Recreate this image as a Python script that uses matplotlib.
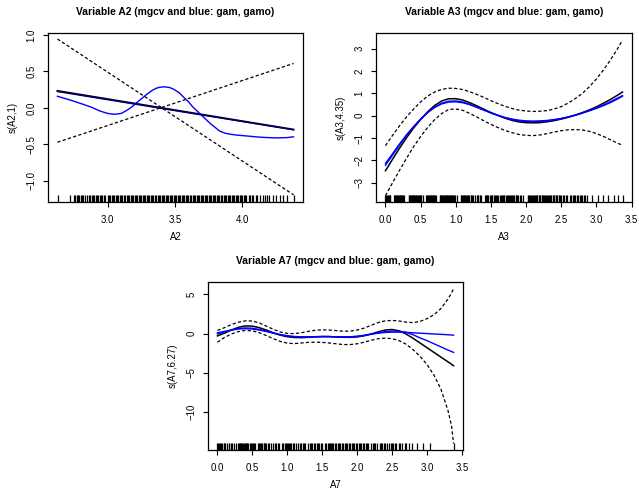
import matplotlib
matplotlib.use("Agg")
import matplotlib.pyplot as plt

plt.rcParams['font.family'] = ['Liberation Sans', 'DejaVu Sans']

W, H = 639, 491

# ---------------- Panel A2 ----------------
a2_x_lin = [2.627, 4.38]
a2_fit = [0.235, -0.295]
a2_gam_lin = [0.225, -0.300]
a2_upper = [0.945, -1.19]
a2_lower = [-0.47, 0.61]
a2_x_wig = [2.627, 2.72, 2.81, 2.88, 2.94, 3.00, 3.05, 3.10, 3.14, 3.18, 3.21, 3.25,
            3.29, 3.33, 3.36, 3.39, 3.42, 3.46, 3.49, 3.53, 3.56, 3.60, 3.63, 3.68,
            3.72, 3.76, 3.80, 3.83, 3.87, 3.91, 3.96, 4.01, 4.07, 4.13, 4.20, 4.26,
            4.33, 4.38]
a2_gamo = [0.16, 0.11, 0.055, 0.01, -0.04, -0.075, -0.087, -0.075, -0.035, 0.015, 0.064,
           0.125, 0.187, 0.24, 0.27, 0.285, 0.29, 0.28, 0.256, 0.21, 0.155, 0.085, 0.018,
           -0.07, -0.14, -0.21, -0.27, -0.315, -0.345, -0.36, -0.372, -0.38, -0.39,
           -0.40, -0.407, -0.41, -0.406, -0.395]
a2_rug = [2.63, 2.72, 2.75, 2.76, 2.77, 2.78, 2.79, 2.80, 2.81, 2.82, 2.83, 2.85, 2.86,
          2.87, 2.88, 2.89, 2.90, 2.91, 2.92, 2.93, 2.94, 2.95, 2.96, 2.97, 2.98, 3.00,
          3.01, 3.02, 3.03, 3.04, 3.05, 3.06, 3.07, 3.08, 3.09, 3.10, 3.11, 3.12, 3.13,
          3.14, 3.15, 3.16, 3.17, 3.18, 3.19, 3.20, 3.21, 3.22, 3.23, 3.24, 3.25, 3.26,
          3.27, 3.28, 3.29, 3.30, 3.31, 3.32, 3.33, 3.34, 3.35, 3.36, 3.37, 3.38, 3.39,
          3.40, 3.41, 3.42, 3.43, 3.44, 3.45, 3.46, 3.47, 3.48, 3.49, 3.50, 3.51, 3.52,
          3.53, 3.54, 3.55, 3.56, 3.57, 3.58, 3.59, 3.60, 3.61, 3.62, 3.63, 3.64, 3.65,
          3.66, 3.67, 3.68, 3.69, 3.70, 3.71, 3.72, 3.73, 3.74, 3.75, 3.76, 3.77, 3.78,
          3.79, 3.80, 3.81, 3.82, 3.83, 3.84, 3.85, 3.86, 3.87, 3.88, 3.89, 3.90, 3.91,
          3.92, 3.93, 3.94, 3.95, 3.96, 3.97, 3.98, 3.99, 4.00, 4.01, 4.02, 4.03, 4.05,
          4.06, 4.07, 4.08, 4.10, 4.11, 4.13, 4.15, 4.17, 4.18, 4.20, 4.23, 4.25, 4.28,
          4.30, 4.33, 4.38]

# ---------------- Panel A3 ----------------
a3_x = [0.0, 0.1, 0.2, 0.3, 0.4, 0.5, 0.6, 0.7, 0.8, 0.9, 1.0, 1.1, 1.2, 1.3, 1.4, 1.5,
        1.6, 1.7, 1.8, 1.9, 2.0, 2.1, 2.2, 2.3, 2.4, 2.5, 2.6, 2.7, 2.8, 2.9, 3.0, 3.1,
        3.2, 3.3, 3.37]
a3_fit = [-2.46, -1.95, -1.45, -0.98, -0.55, -0.17, 0.18, 0.46, 0.66, 0.76, 0.76, 0.70,
          0.58, 0.44, 0.29, 0.14, 0.01, -0.11, -0.21, -0.28, -0.31, -0.32, -0.31, -0.27,
          -0.22, -0.15, -0.07, 0.03, 0.14, 0.26, 0.40, 0.56, 0.73, 0.92, 1.06]
a3_gam = [-2.13, -1.70, -1.26, -0.85, -0.48, -0.15, 0.15, 0.39, 0.56, 0.65, 0.66, 0.61,
          0.51, 0.38, 0.25, 0.12, 0.01, -0.09, -0.17, -0.23, -0.26, -0.27, -0.26, -0.23,
          -0.19, -0.13, -0.06, 0.02, 0.12, 0.23, 0.35, 0.48, 0.63, 0.79, 0.90]
a3_gamo = [-2.22, -1.77, -1.31, -0.88, -0.50, -0.16, 0.14, 0.37, 0.53, 0.61, 0.62, 0.58,
           0.49, 0.37, 0.25, 0.13, 0.02, -0.08, -0.15, -0.20, -0.23, -0.24, -0.23, -0.21,
           -0.17, -0.12, -0.05, 0.03, 0.12, 0.22, 0.33, 0.45, 0.59, 0.75, 0.87]
a3_upper = [-1.34, -0.88, -0.45, -0.05, 0.30, 0.62, 0.88, 1.06, 1.18, 1.23, 1.22, 1.17,
            1.07, 0.95, 0.82, 0.67, 0.54, 0.42, 0.32, 0.25, 0.21, 0.19, 0.20, 0.23,
            0.30, 0.41, 0.57, 0.77, 1.00, 1.30, 1.65, 2.05, 2.50, 3.00, 3.38]
a3_lower = [-3.58, -3.00, -2.44, -1.90, -1.38, -0.93, -0.52, -0.17, 0.10, 0.28, 0.30, 0.24,
            0.10, -0.06, -0.23, -0.39, -0.53, -0.66, -0.76, -0.84, -0.88, -0.89, -0.86, -0.80,
            -0.73, -0.67, -0.63, -0.62, -0.64, -0.70, -0.80, -0.93, -1.08, -1.23, -1.32]
a3_rug = [0.00, 0.01, 0.02, 0.03, 0.04, 0.05, 0.06, 0.07, 0.12, 0.13, 0.14, 0.15, 0.16,
          0.17, 0.18, 0.19, 0.20, 0.21, 0.22, 0.23, 0.24, 0.25, 0.27, 0.33, 0.34, 0.35,
          0.36, 0.37, 0.38, 0.39, 0.40, 0.41, 0.42, 0.43, 0.44, 0.45, 0.46, 0.47, 0.48,
          0.49, 0.50, 0.51, 0.53, 0.58, 0.59, 0.60, 0.61, 0.62, 0.63, 0.64, 0.65, 0.66,
          0.67, 0.68, 0.69, 0.70, 0.72, 0.77, 0.78, 0.79, 0.80, 0.81, 0.82, 0.83, 0.84,
          0.85, 0.86, 0.87, 0.88, 0.89, 0.90, 0.91, 0.92, 0.93, 0.94, 0.95, 0.96, 0.97,
          0.99, 1.01, 1.07, 1.08, 1.09, 1.10, 1.11, 1.12, 1.13, 1.15, 1.16, 1.17, 1.18,
          1.19, 1.21, 1.22, 1.23, 1.25, 1.27, 1.30, 1.31, 1.32, 1.34, 1.36, 1.42, 1.43,
          1.44, 1.45, 1.46, 1.48, 1.50, 1.51, 1.52, 1.54, 1.56, 1.57, 1.58, 1.60, 1.63,
          1.64, 1.65, 1.67, 1.68, 1.69, 1.71, 1.73, 1.74, 1.75, 1.77, 1.79, 1.80, 1.81,
          1.83, 1.85, 1.86, 1.87, 1.89, 1.91, 1.93, 1.96, 2.02, 2.03, 2.04, 2.06, 2.07,
          2.08, 2.10, 2.11, 2.12, 2.14, 2.15, 2.16, 2.18, 2.19, 2.20, 2.22, 2.23, 2.24,
          2.26, 2.27, 2.28, 2.30, 2.31, 2.32, 2.34, 2.35, 2.36, 2.38, 2.39, 2.40, 2.42,
          2.43, 2.44, 2.46, 2.47, 2.48, 2.50, 2.52, 2.54, 2.56, 2.58, 2.62, 2.64, 2.66,
          2.68, 2.70, 2.72, 2.74, 2.76, 2.78, 2.80, 2.82, 2.84, 2.87, 2.94, 3.02, 3.09,
          3.16, 3.25, 3.31, 3.37]

# ---------------- Panel A7 ----------------
a7_x = [0.0, 0.1, 0.2, 0.3, 0.4, 0.5, 0.6, 0.7, 0.8, 0.9, 1.0, 1.1, 1.2, 1.3, 1.4, 1.5,
        1.6, 1.7, 1.8, 1.9, 2.0, 2.1, 2.2, 2.3, 2.4, 2.5, 2.6, 2.7, 2.8, 2.9, 3.0, 3.1,
        3.2, 3.3, 3.35, 3.38]
a7_fit = [-0.30, 0.05, 0.45, 0.80, 0.98, 0.95, 0.75, 0.45, 0.10, -0.20, -0.40, -0.50,
          -0.52, -0.48, -0.42, -0.38, -0.38, -0.42, -0.47, -0.48, -0.42, -0.28, -0.05,
          0.22, 0.45, 0.52, 0.35, -0.05, -0.60, -1.20, -1.80, -2.40, -3.00, -3.60,
          -3.90, -4.10]
a7_gam = [-0.05, 0.20, 0.45, 0.65, 0.72, 0.68, 0.52, 0.30, 0.05, -0.17, -0.33, -0.42,
          -0.45, -0.43, -0.40, -0.38, -0.39, -0.42, -0.45, -0.45, -0.38, -0.25, -0.08,
          0.10, 0.25, 0.32, 0.30, 0.18, -0.15, -0.55, -0.90, -1.30, -1.70, -2.10,
          -2.28, -2.40]
a7_gamo = [0.10, 0.28, 0.45, 0.58, 0.62, 0.58, 0.45, 0.27, 0.07, -0.12, -0.27, -0.37,
           -0.41, -0.41, -0.39, -0.38, -0.39, -0.41, -0.42, -0.40, -0.33, -0.22, -0.08,
           0.05, 0.14, 0.18, 0.18, 0.15, 0.10, 0.05, 0.00, -0.05, -0.10, -0.15,
           -0.18, -0.20]
a7_upper = [0.40, 0.75, 1.15, 1.45, 1.62, 1.60, 1.35, 0.95, 0.55, 0.20, 0.02, 0.00,
            0.10, 0.28, 0.42, 0.48, 0.45, 0.38, 0.30, 0.32, 0.45, 0.70, 1.05, 1.40,
            1.62, 1.68, 1.60, 1.45, 1.40, 1.55, 1.90, 2.40, 3.20, 4.40, 5.15, 5.75]
a7_lower = [-1.10, -0.50, -0.05, 0.25, 0.40, 0.35, 0.10, -0.25, -0.65, -1.00, -1.22, -1.28,
            -1.20, -1.12, -1.10, -1.12, -1.20, -1.30, -1.40, -1.40, -1.30, -1.10, -0.85,
            -0.65, -0.58, -0.65, -0.90, -1.35, -2.05, -2.90, -3.95, -5.30, -7.10, -9.80,
            -11.70, -14.0]
a7_rug = [0.00, 0.01, 0.02, 0.04, 0.05, 0.07, 0.09, 0.10, 0.11, 0.14, 0.16, 0.17, 0.19,
          0.21, 0.23, 0.26, 0.30, 0.31, 0.32, 0.33, 0.34, 0.35, 0.36, 0.38, 0.40, 0.41,
          0.42, 0.43, 0.44, 0.46, 0.48, 0.50, 0.51, 0.52, 0.54, 0.58, 0.60, 0.61, 0.62,
          0.64, 0.66, 0.67, 0.68, 0.70, 0.72, 0.74, 0.76, 0.80, 0.82, 0.84, 0.86, 0.88,
          0.92, 0.94, 0.96, 0.98, 1.00, 1.01, 1.02, 1.04, 1.06, 1.08, 1.10, 1.12, 1.16,
          1.18, 1.20, 1.22, 1.24, 1.26, 1.30, 1.32, 1.34, 1.36, 1.38, 1.40, 1.42, 1.44,
          1.46, 1.48, 1.50, 1.54, 1.56, 1.58, 1.60, 1.61, 1.62, 1.64, 1.66, 1.68, 1.70,
          1.72, 1.74, 1.76, 1.78, 1.80, 1.82, 1.84, 1.86, 1.88, 1.90, 1.92, 1.94, 1.96,
          1.98, 2.00, 2.02, 2.04, 2.06, 2.08, 2.10, 2.12, 2.14, 2.16, 2.20, 2.22, 2.24,
          2.26, 2.28, 2.32, 2.34, 2.36, 2.38, 2.40, 2.42, 2.46, 2.48, 2.50, 2.52, 2.54,
          2.56, 2.60, 2.62, 2.64, 2.68, 2.70, 2.74, 2.79, 2.85, 2.94, 3.04, 3.38]

a2_xticks = [3.0, 3.5, 4.0]
a2_yticks = [-1.0, -0.5, 0.0, 0.5, 1.0]
a3_xticks = [0.0, 0.5, 1.0, 1.5, 2.0, 2.5, 3.0, 3.5]
a3_yticks = [-3, -2, -1, 0, 1, 2, 3]
a7_xticks = [0.0, 0.5, 1.0, 1.5, 2.0, 2.5, 3.0, 3.5]
a7_yticks = [-10, -5, 0, 5]

TITLE_FS = 7.4
TICK_FS = 6.9
BLUE = "#0000FF"
DASH = (0, (2.6, 1.8))

fig = plt.figure(figsize=(W / 100, H / 100), dpi=100)


def make_axes(left, top, right, bottom):
    return fig.add_axes([left / W, 1 - bottom / H, (right - left) / W, (bottom - top) / H])


def style(ax, xlim, ylim, xticks, yticks, xfmt, yfmt, title, xlabel, ylabel,
          box, rug):
    left, top, right, bottom = box
    ax.set_xlim(*xlim)
    ax.set_ylim(*ylim)
    ax.set_xticks(xticks)
    ax.set_xticklabels([xfmt.format(v) for v in xticks])
    ax.set_yticks(yticks)
    ax.set_yticklabels([yfmt.format(v).replace('-', '\u2212') for v in yticks],
                       rotation=90, va='center')
    ax.tick_params(direction='out', length=3.6, width=0.8, labelsize=TICK_FS,
                   colors='black')
    ax.tick_params(axis='x', pad=6.0)
    ax.tick_params(axis='y', pad=4.6)
    for s in ax.spines.values():
        s.set_linewidth(0.9)
        s.set_color('black')
    # rug
    ax.vlines(rug, 0, 0.04, transform=ax.get_xaxis_transform(), color='black',
              linewidth=0.9)
    cx = (left + right) / 2
    fig.text(cx / W, 1 - (top - 21) / H, title, ha='center', va='center',
             fontsize=TITLE_FS, fontweight='bold')
    fig.text(cx / W, 1 - (bottom + 35.5) / H, xlabel, ha='center', va='center',
             fontsize=TICK_FS)
    fig.text((left - 35.5) / W, 1 - ((top + bottom) / 2) / H, ylabel, ha='center',
             va='center', rotation=90, fontsize=TICK_FS)


# Panel A2
box1 = (48, 33, 303, 202)
ax1 = make_axes(*box1)
ax1.plot(a2_x_lin, a2_upper, color='black', linestyle=DASH, linewidth=0.9)
ax1.plot(a2_x_lin, a2_lower, color='black', linestyle=DASH, linewidth=0.9)
ax1.plot(a2_x_lin, a2_fit, color='black', linewidth=1.3)
ax1.plot(a2_x_lin, a2_gam_lin, color='#000080', linewidth=1.0)
ax1.plot(a2_x_wig, a2_gamo, color=BLUE, linewidth=1.0)
style(ax1, (2.557, 4.45), (-1.288, 1.027), a2_xticks, a2_yticks, "{:.1f}", "{:.1f}",
      "Variable A2 (mgcv and blue: gam, gamo)", "A2", "s(A2,1)", box1, a2_rug)

# Panel A3
box2 = (376, 33, 632, 202)
ax2 = make_axes(*box2)
ax2.plot(a3_x, a3_upper, color='black', linestyle=DASH, linewidth=0.9)
ax2.plot(a3_x, a3_lower, color='black', linestyle=DASH, linewidth=0.9)
ax2.plot(a3_x, a3_fit, color='black', linewidth=1.1)
ax2.plot(a3_x, a3_gam, color=BLUE, linewidth=1.0)
ax2.plot(a3_x, a3_gamo, color=BLUE, linewidth=1.0)
style(ax2, (-0.135, 3.505), (-3.86, 3.70), a3_xticks, a3_yticks, "{:.1f}", "{:d}",
      "Variable A3 (mgcv and blue: gam, gamo)", "A3", "s(A3,4.35)", box2, a3_rug)

# Panel A7
box3 = (208, 282, 463, 450)
ax3 = make_axes(*box3)
ax3.plot(a7_x, a7_upper, color='black', linestyle=DASH, linewidth=0.9)
ax3.plot(a7_x, a7_lower, color='black', linestyle=DASH, linewidth=0.9)
ax3.plot(a7_x, a7_fit, color='black', linewidth=1.1)
ax3.plot(a7_x, a7_gam, color=BLUE, linewidth=1.0)
ax3.plot(a7_x, a7_gamo, color=BLUE, linewidth=1.0)
style(ax3, (-0.135, 3.515), (-14.83, 6.57), a7_xticks, a7_yticks, "{:.1f}", "{:d}",
      "Variable A7 (mgcv and blue: gam, gamo)", "A7", "s(A7,6.27)", box3, a7_rug)

fig.savefig("out.png", dpi=100)
